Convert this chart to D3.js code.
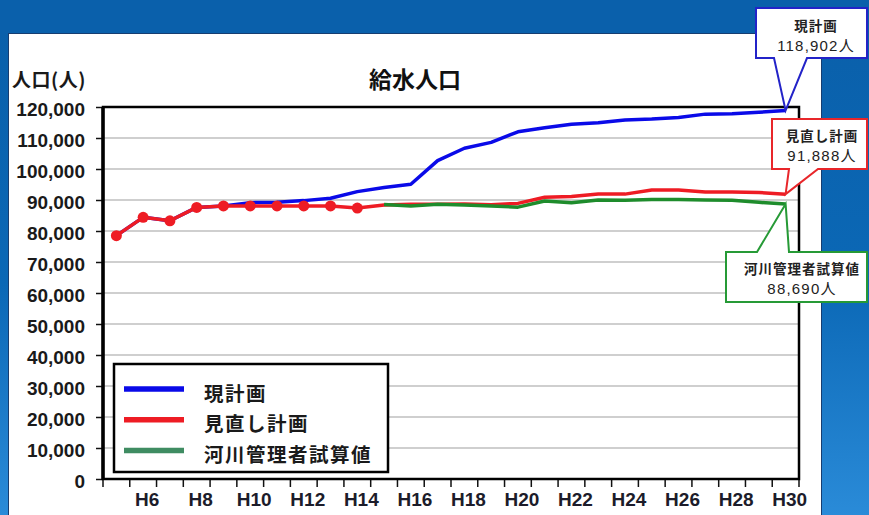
<!DOCTYPE html>
<html>
<head>
<meta charset="utf-8">
<script src="https://cdn.jsdelivr.net/npm/d3@7"></script>
<style>
  html, body { margin: 0; padding: 0; background: #0a62ad; }
  svg { display: block; }
  text { font-family: "Liberation Sans", Arial, sans-serif; }
  .jp { font-family: "Noto Sans CJK JP", "Noto Sans", sans-serif; }
  .num { font-family: "Liberation Sans", "Noto Sans CJK JP", sans-serif; }
</style>
</head>
<body>
<svg id="chart" width="869" height="515"></svg>
<script>
// Fiscal years H5 .. H30
const years = ["H5","H6","H7","H8","H9","H10","H11","H12","H13","H14","H15","H16","H17",
               "H18","H19","H20","H21","H22","H23","H24","H25","H26","H27","H28","H29","H30"];
const yearLabels = ["H6","H8","H10","H12","H14","H16","H18","H20","H22","H24","H26","H28","H30"];
const yTicks = [0,10000,20000,30000,40000,50000,60000,70000,80000,90000,100000,110000,120000];

// 現計画 (H5..H30)
const currentPlan = [78500, 84400, 83300, 87600, 88100, 89150, 89250, 89800, 90550, 92700,
                     94000, 95100, 102700, 106700, 108600, 112000, 113300, 114400, 114900,
                     115800, 116100, 116600, 117700, 117800, 118300, 118902];
// 見直し計画 (H5..H30); H5..H14 are actual figures shown with markers
const revisedPlan = [78500, 84400, 83300, 87600, 88100, 88100, 88100, 88100, 88100, 87400,
                     88400, 88600, 88600, 88700, 88500, 88900, 90900, 91100, 91900, 91900,
                     93200, 93200, 92600, 92600, 92400, 91888];
const actualCount = 10;
// 河川管理者試算値 (H15..H30)
const riverYears = years.slice(10);
const riverEstimate = [88550, 88100, 88600, 88400, 88100, 87700, 89700, 89100, 90000, 89900,
                       90200, 90200, 90000, 89900, 89250, 88690];

const seriesNames = ["現計画", "見直し計画", "河川管理者試算値"];
const seriesColors = ["#0a0ae8", "#ee1c24", "#1e8c2c"];
const legendColors = ["#0a0ae8", "#ee1c24", "#3f8c62"];

const svg = d3.select("#chart");

// Backdrop
const defs = svg.append("defs");
const grad = defs.append("linearGradient").attr("id", "sideBlue")
  .attr("x1", 0).attr("y1", 0).attr("x2", 0).attr("y2", 1);
grad.append("stop").attr("offset", "0").attr("stop-color", "#0a5fa9");
grad.append("stop").attr("offset", "0.55").attr("stop-color", "#0b68b6");
grad.append("stop").attr("offset", "1").attr("stop-color", "#2a8bd8");
svg.append("rect").attr("width", 869).attr("height", 515).attr("fill", "url(#sideBlue)");
svg.append("rect").attr("x", 0).attr("y", 0).attr("width", 869).attr("height", 33).attr("fill", "#0a60ab");
svg.append("rect").attr("x", 8.5).attr("y", 33.5).attr("width", 813).attr("height", 490)
  .attr("fill", "#fff").attr("stroke", "#173d70").attr("stroke-width", 1);

const plotLeft = 103, plotRight = 799, plotTop = 107, plotBottom = 479;

const x = d3.scaleBand().domain(years).range([plotLeft, plotRight]).padding(0);
const cx = d => x(d) + x.bandwidth() / 2;
const y = d3.scaleLinear().domain([0, 120000]).range([plotBottom, plotTop]);

// Gridlines
svg.append("g").selectAll("line").data(yTicks.filter(t => t > 0 && t < 120000)).join("line")
  .attr("x1", plotLeft).attr("x2", plotRight)
  .attr("y1", d => y(d)).attr("y2", d => y(d))
  .attr("stroke", "#a0a0a0").attr("stroke-width", 1.2);

// Y axis
const yAxis = svg.append("g").attr("transform", `translate(${plotLeft},0)`)
  .call(d3.axisLeft(y).tickValues(yTicks).tickSize(7).tickPadding(11)
    .tickFormat(d3.format(",")));
yAxis.select(".domain").remove();
yAxis.selectAll(".tick line").attr("stroke", "#111").attr("stroke-width", 1.5);
yAxis.selectAll(".tick text").attr("font-size", 19).attr("font-weight", "bold")
  .attr("fill", "#1a1a1a").attr("dy", "0.45em");

// X axis: tick marks on category boundaries, labels on every other year
const boundaries = years.map(d => x(d)).concat([plotRight]);
svg.append("g").selectAll("line").data(boundaries).join("line")
  .attr("x1", d => d).attr("x2", d => d)
  .attr("y1", plotBottom).attr("y2", plotBottom + 8)
  .attr("stroke", "#111").attr("stroke-width", 1.5);
const xAxis = svg.append("g").attr("transform", `translate(4,${plotBottom})`)
  .call(d3.axisBottom(x).tickValues(yearLabels).tickSize(0).tickPadding(14));
xAxis.select(".domain").remove();
xAxis.selectAll(".tick text").attr("font-size", 19).attr("font-weight", "bold")
  .attr("fill", "#1c1c2a");

// Plot frame
svg.append("rect").attr("x", plotLeft).attr("y", plotTop)
  .attr("width", plotRight - plotLeft).attr("height", plotBottom - plotTop)
  .attr("fill", "none").attr("stroke", "#000").attr("stroke-width", 2.5);
svg.append("line").attr("x1", plotLeft).attr("x2", plotLeft).attr("y1", plotTop).attr("y2", plotBottom + 1)
  .attr("stroke", "#000").attr("stroke-width", 3.5);

// Lines
const line = d3.line().x(d => cx(d[0])).y(d => y(d[1]));
svg.append("path").datum(years.map((c, i) => [c, currentPlan[i]]))
  .attr("d", line).attr("fill", "none").attr("stroke", seriesColors[0])
  .attr("stroke-width", 3.5).attr("stroke-linejoin", "round");
svg.append("path").datum(years.map((c, i) => [c, revisedPlan[i]]))
  .attr("d", line).attr("fill", "none").attr("stroke", seriesColors[1])
  .attr("stroke-width", 3.5).attr("stroke-linejoin", "round");
svg.append("g").selectAll("circle").data(years.slice(0, actualCount)).join("circle")
  .attr("cx", d => cx(d)).attr("cy", (d, i) => y(revisedPlan[i])).attr("r", 5.5)
  .attr("fill", seriesColors[1]);
svg.append("path").datum(riverYears.map((c, i) => [c, riverEstimate[i]]))
  .attr("d", line).attr("fill", "none").attr("stroke", seriesColors[2])
  .attr("stroke-width", 3.5).attr("stroke-linejoin", "round");

// Titles
svg.append("text").attr("class", "jp").attr("x", 415).attr("y", 88)
  .attr("text-anchor", "middle").attr("font-size", 23).attr("font-weight", "bold")
  .attr("fill", "#111").text("給水人口");
svg.append("text").attr("class", "jp").attr("x", 12).attr("y", 87)
  .attr("font-size", 19).attr("font-weight", "bold").attr("letter-spacing", 0.5)
  .attr("fill", "#1a1a1a").text("人口(人)");

// Legend
const lg = svg.append("g");
lg.append("rect").attr("x", 114).attr("y", 364).attr("width", 274).attr("height", 108)
  .attr("fill", "#fff").attr("stroke", "#000").attr("stroke-width", 2.5);
seriesNames.forEach((name, i) => {
  const ly = 389 + i * 30.7;
  lg.append("line").attr("x1", 124).attr("x2", 184).attr("y1", ly).attr("y2", ly)
    .attr("stroke", legendColors[i]).attr("stroke-width", 5.5);
  lg.append("text").attr("class", "jp").attr("x", 204).attr("y", ly + 3)
    .attr("dominant-baseline", "central").attr("font-size", 19.5).attr("font-weight", "bold")
    .attr("letter-spacing", 1.5).attr("fill", "#1a1a1a").text(name);
});

// Callouts at the H30 end of each series
const last = years[years.length - 1];
const tipX = cx(last);
const fmt = d3.format(",");
const callouts = [
  { name: seriesNames[0], value: currentPlan[currentPlan.length - 1], color: "#2323c8",
    path: t => `M756,8 H867 V58 H807 L${t[0]},${t[1]} L774,58 H756 Z`, tx: 816, ty1: 25, ty2: 45 },
  { name: seriesNames[1], value: revisedPlan[revisedPlan.length - 1], color: "#e8262a",
    path: t => `M772,119 H867 V169 H818 L${t[0]},${t[1]} L789,169 H772 Z`, tx: 822, ty1: 135, ty2: 155 },
  { name: seriesNames[2], value: riverEstimate[riverEstimate.length - 1], color: "#269a36",
    path: t => `M726,252 H757 L${t[0]},${t[1]} L789,252 H867 V302 H726 Z`, tx: 802, ty1: 268, ty2: 288 }
];
callouts.forEach(c => {
  const g = svg.append("g");
  g.append("path").attr("d", c.path([tipX, y(c.value)]))
    .attr("fill", "#fff").attr("stroke", c.color).attr("stroke-width", 2)
    .attr("stroke-linejoin", "miter");
  g.append("text").attr("class", "jp").attr("x", c.tx).attr("y", c.ty1)
    .attr("text-anchor", "middle").attr("dominant-baseline", "central")
    .attr("font-size", 13.5).attr("font-weight", "bold").attr("letter-spacing", 1)
    .attr("fill", "#222").text(c.name);
  g.append("text").attr("class", "num").attr("x", c.tx).attr("y", c.ty2)
    .attr("text-anchor", "middle").attr("dominant-baseline", "central")
    .attr("font-size", 15).attr("letter-spacing", 1.2).attr("fill", "#222")
    .text(fmt(c.value) + "人");
});
</script>
</body>
</html>
